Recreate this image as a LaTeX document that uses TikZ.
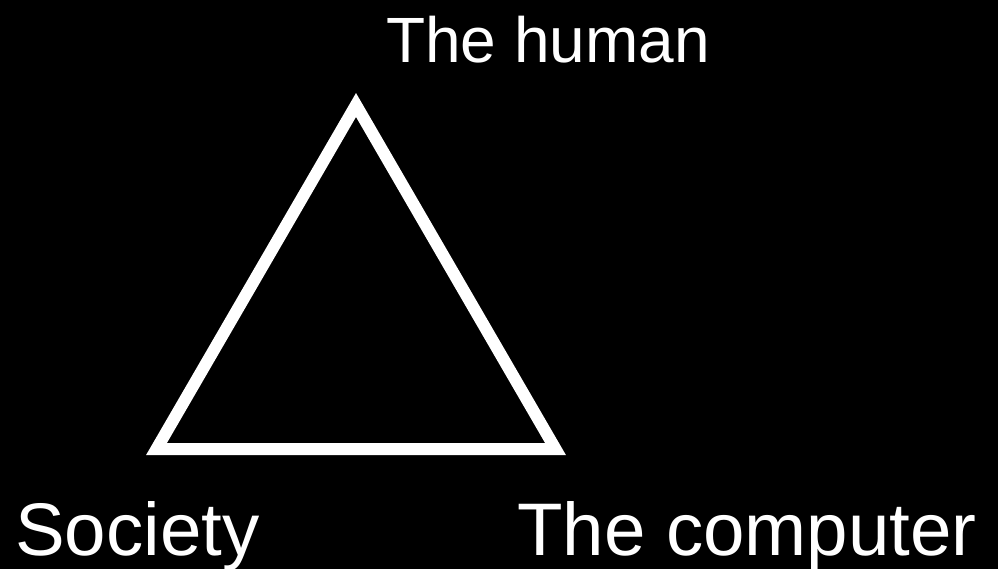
\documentclass[tikz,border=0pt]{standalone}
\usepackage{fontspec}
\setmainfont{Liberation Sans}
\begin{document}
\begin{tikzpicture}[x=1pt,y=-1pt,
  lbl/.style={text=white,inner sep=0pt,anchor=base west},
  tri/.style={draw=white,line width=12pt,line join=miter}]
\fill[black] (0,0) rectangle (998,569);
\useasboundingbox (0,0) rectangle (998,569);
\coordinate (top) at (356,105);
\coordinate (bl) at (156.5,449);
\coordinate (br) at (555.5,449);
\draw[tri] (top) -- (bl) -- (br) -- cycle;
\node[lbl,font=\fontsize{64}{70}\selectfont] (human) at (386,63) {The human};
\node[lbl,font=\fontsize{74.5}{80}\selectfont] (society) at (15,555) {Society};
\node[lbl,font=\fontsize{74.5}{80}\selectfont] (computer) at (517,555) {The computer};
\end{tikzpicture}
\end{document}
